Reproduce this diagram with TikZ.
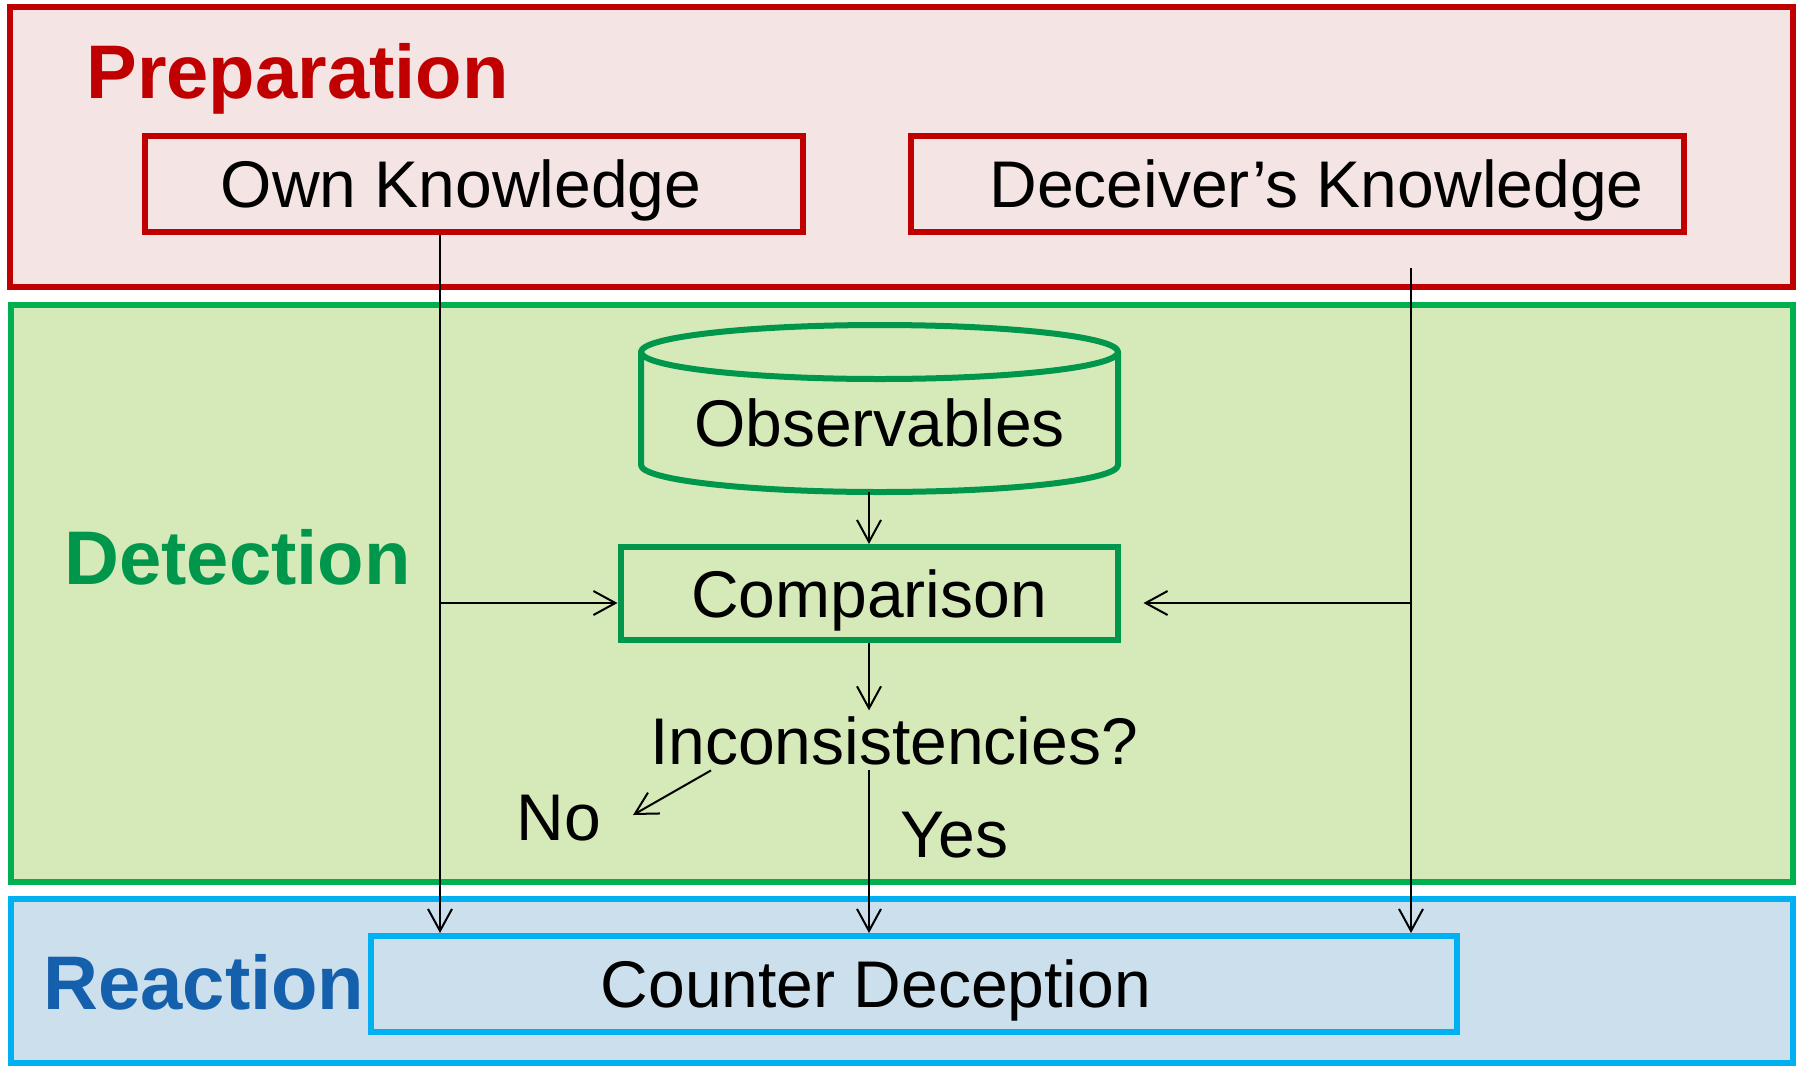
\documentclass[tikz,border=0pt]{standalone}
\usepackage{fontspec}
\setmainfont{Liberation Sans}
\usetikzlibrary{arrows.meta}
\definecolor{prepred}{HTML}{C00000}
\definecolor{prepfill}{HTML}{F5E4E4}
\definecolor{detgreen}{HTML}{00B050}
\definecolor{detdark}{HTML}{00964B}
\definecolor{detfill}{HTML}{D6EAB9}
\definecolor{reacblue}{HTML}{00B0F0}
\definecolor{reacfill}{HTML}{CCDFEC}
\definecolor{reactext}{HTML}{1560AC}
\begin{document}
\begin{tikzpicture}[x=0.5pt,y=-0.5pt,
  panel/.style={draw, line width=3pt, inner sep=0pt},
  box/.style={draw, line width=3pt, inner sep=0pt, font=\fontsize{33pt}{36pt}\selectfont, text height=23.6pt, text depth=0pt},
  heading/.style={font=\fontsize{38pt}{40pt}\selectfont\bfseries, anchor=base west, inner sep=0pt},
  lbl/.style={font=\fontsize{33pt}{36pt}\selectfont, inner sep=0pt, anchor=base west},
  arr/.style={line width=1pt, -{Straight Barb[length=11pt,width=12pt,line width=1pt]}},
  cyl/.style={draw=detdark, line width=3pt, line join=round, line cap=round}
]
\useasboundingbox[fill=white] (0,0) rectangle (1802,1066);

% panels
\node[panel, draw=prepred, fill=prepfill, minimum width=891.5pt, minimum height=140pt] (prep) at (901.5,147) {};
\node[panel, draw=detgreen, fill=detfill, minimum width=891pt, minimum height=288.5pt] (det) at (902,593.5) {};
\node[panel, draw=reacblue, fill=reacfill, minimum width=891pt, minimum height=82pt] (reac) at (902,981) {};

% headings
\node[heading, text=prepred] (prept) at (86,98) {Preparation};
\node[heading, text=detdark] (dett) at (64,584) {Detection};
\node[heading, text=reactext] (react) at (43,1009) {Reaction};

% boxes
\node[box, draw=prepred, fill=prepfill, minimum width=329pt, minimum height=48pt] (own) at (474,184) {\hspace*{-13pt}Own Knowledge};
\node[box, draw=prepred, fill=prepfill, minimum width=386.5pt, minimum height=48pt] (dec) at (1297.5,184) {Deceiver’s Knowledge\hspace*{-19pt}};
\node[box, draw=none, outer sep=0pt, minimum width=238.5pt, minimum height=83.5pt, text height=37.6pt] (obs) at (879.5,408.5) {Observables};
\draw[cyl] ([yshift=-13.5pt]obs.north west) -- ([yshift=13.5pt]obs.south west)
  arc[start angle=180, end angle=360, x radius=119.25pt, y radius=13.5pt]
  -- ([yshift=-13.5pt]obs.north east);
\draw[cyl] ([yshift=-13.5pt]obs.north) ellipse[x radius=119.25pt, y radius=13.5pt];
\node[box, draw=detdark, fill=detfill, minimum width=248.5pt, minimum height=46.5pt] (comp) at (869,593.5) {Comparison};
\node[box, draw=reacblue, fill=reacfill, minimum width=543pt, minimum height=48pt] (counter) at (914,984) {\hspace*{-38pt}Counter Deception};

% labels
\node[lbl, anchor=base, inner sep=3pt, text height=23.6pt, text depth=0pt] (incon) at (894,764) {Inconsistencies?};
\node[lbl] (no) at (516,840) {No};
\node[lbl] (yes) at (900,857) {Yes};

% connectors
\coordinate (lx) at (440,0);
\draw[arr] (own.south -| lx) -- (counter.north -| lx);
\coordinate (rtop) at (1411,268);
\draw[arr] (rtop) -- (counter.north -| rtop);
\coordinate (jl) at (440,603);
\draw[arr] (jl) -- (jl -| comp.west);
\coordinate (jr) at (1411,603);
\draw[arr, shorten >=11.5pt] (jr) -- (jr -| comp.east);
\draw[arr] (obs.south -| comp.south) -- (comp.north);
\draw[arr] (comp.south) -- (incon.north -| comp.south);
\draw[arr] (incon.south -| comp.south) -- (counter.north -| comp.south);
\coordinate (nos) at (711,0);
\coordinate (noe) at (633,815);
\draw[arr] (incon.south -| nos) -- (noe);
\end{tikzpicture}
\end{document}
